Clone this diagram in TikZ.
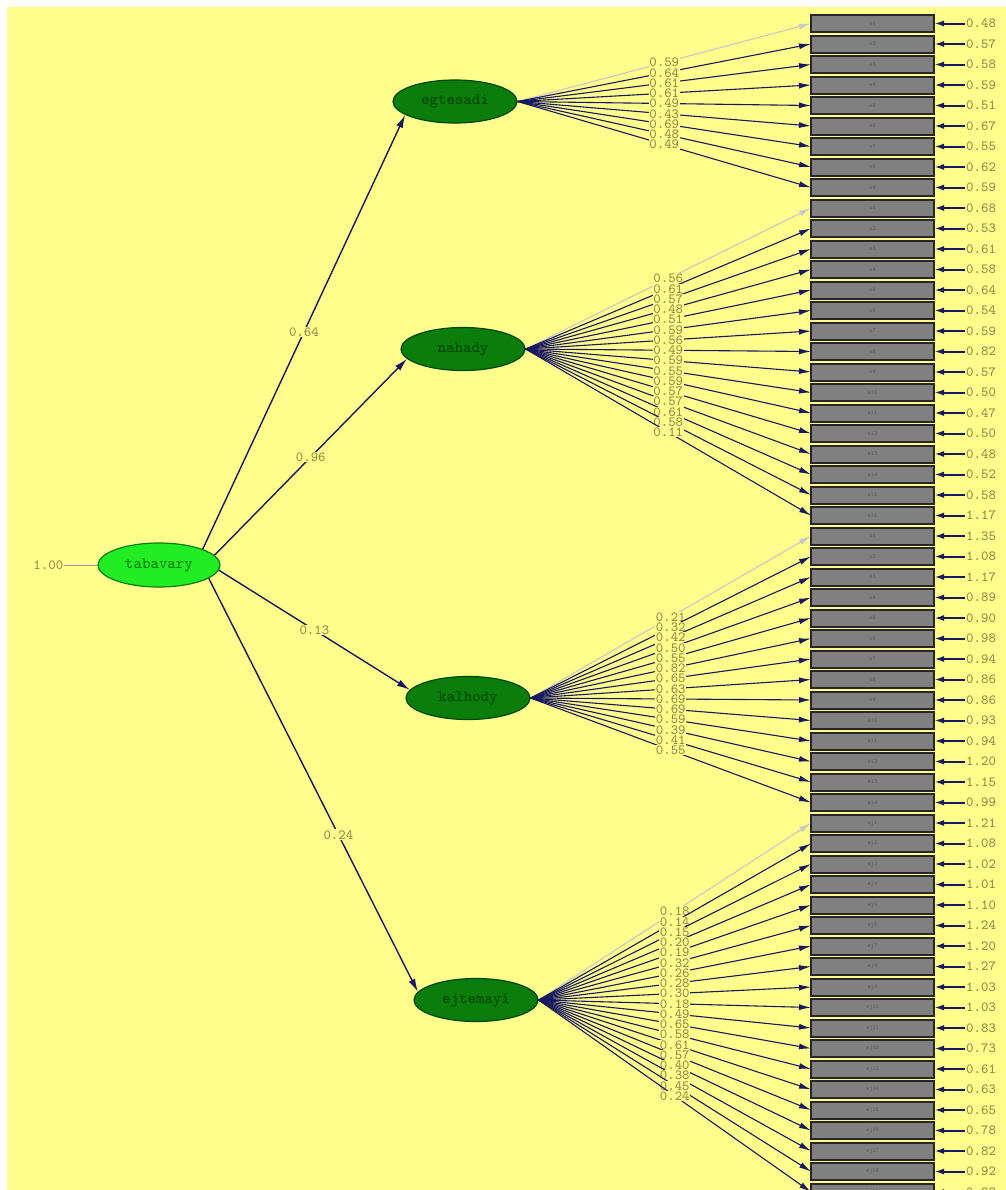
\documentclass[tikz,border=0pt]{standalone}
\usepackage{fontspec}
\usepackage{tikz}
\usetikzlibrary{positioning, shapes.geometric, arrows.meta}
\definecolor{bgyellow}{RGB}{255,253,140}
\definecolor{boxgray}{RGB}{128,128,128}
\definecolor{rootgreen}{RGB}{34,236,34}
\definecolor{latgreen}{RGB}{10,125,10}
\definecolor{darkgreen}{RGB}{0,70,0}
\definecolor{navy}{RGB}{25,25,95}
\definecolor{fixgray}{RGB}{200,200,200}
\definecolor{numcol}{RGB}{145,138,72}
\newcommand{\numfont}{\fontsize{7}{7}\selectfont\ttfamily\addfontfeatures{LetterSpace=18}}
\newcommand{\latfont}{\fontsize{8}{8}\selectfont\ttfamily\addfontfeatures{LetterSpace=20}}
\newcommand{\boxfont}{\fontsize{3}{3}\selectfont\ttfamily\addfontfeatures{LetterSpace=20}}

\begin{document}
\begin{tikzpicture}[x=0.5pt, y=-0.5pt]
      \tikzset{ root/.style={ellipse, draw=latgreen, line width=0.6pt, fill=rootgreen, text=latgreen, minimum width=61pt, minimum height=22pt, inner sep=0pt, font=\latfont} }
      \tikzset{ lat/.style ={ellipse, draw=darkgreen, line width=0.6pt, fill=latgreen, text=darkgreen, minimum width=62pt, minimum height=21.5pt, inner sep=0pt, font=\latfont} }
      \tikzset{ obs/.style ={rectangle, draw=black!85, line width=1pt, fill=boxgray, text=black!65, minimum width=61.5pt, minimum height=8.5pt, inner sep=0pt, outer sep=0pt, font=\boxfont} }
      \tikzset{ lbl/.style ={fill=bgyellow, text=numcol, inner sep=0.4pt, font=\numfont} }
      \tikzset{ err/.style ={text=numcol, inner sep=0.4pt, font=\numfont} }
      \tikzset{ ld/.style  ={draw=navy, line width=0.55pt, >={Latex[length=6pt, width=3pt]}} }
      \tikzset{ fx/.style  ={draw=fixgray, line width=0.55pt, >={Latex[length=6pt, width=3pt]}} }
      \tikzset{ st/.style  ={draw=navy, line width=0.7pt, >={Latex[length=6.5pt, width=3.5pt]}} }
      \tikzset{ ea/.style  ={draw=navy, line width=1pt, >={Latex[length=5pt, width=3pt]}} }

      % page
      \fill[white] (0,0) rectangle (1006,1190);
      \fill[bgyellow] (7,7) rectangle (1006,1190);
      \useasboundingbox (0,0) rectangle (1006,1190);

      % latent variables
      \node[root] (tabavary) at (159,565)   {tabavary};
      \node[lat]  (egtesadi) at (455,101.5) {egtesadi};
      \node[lat]  (nahady)   at (463,349)   {nahady};
      \node[lat]  (kalhody)  at (468,698)   {kalhody};
      \node[lat]  (ejtemayi) at (476,1000)  {ejtemayi};

      \node[lbl, left=16.5pt of tabavary] (fixvar) {1.00};
      \draw[draw=black!40, line width=0.5pt] (fixvar) -- (tabavary);

      \draw[->, st] (tabavary.20)  -- (egtesadi.195) node[lbl, pos=0.5]  {0.64};
      \draw[->, st] (tabavary.10)  -- (nahady.190)   node[lbl, pos=0.5]  {0.96};
      \draw[->, st] (tabavary.355) -- (kalhody.172)  node[lbl, pos=0.5]  {0.13};
      \draw[->, st] (tabavary.345) -- (ejtemayi.172) node[lbl, pos=0.62] {0.24};

      % observed variables
      \node[obs] (e1) at (872.5,23.5) {e1};
      \node[obs, below=1.75pt of e1]   (e2)   {e2};
      \node[obs, below=1.75pt of e2]   (e3)   {e3};
      \node[obs, below=1.75pt of e3]   (e4)   {e4};
      \node[obs, below=1.75pt of e4]   (e5)   {e5};
      \node[obs, below=1.75pt of e5]   (e6)   {e6};
      \node[obs, below=1.75pt of e6]   (e7)   {e7};
      \node[obs, below=1.75pt of e7]   (e8)   {e8};
      \node[obs, below=1.75pt of e8]   (e9)   {e9};
      \node[obs, below=1.75pt of e9]   (n1)   {n1};
      \node[obs, below=1.75pt of n1]   (n2)   {n2};
      \node[obs, below=1.75pt of n2]   (n3)   {n3};
      \node[obs, below=1.75pt of n3]   (n4)   {n4};
      \node[obs, below=1.75pt of n4]   (n5)   {n5};
      \node[obs, below=1.75pt of n5]   (n6)   {n6};
      \node[obs, below=1.75pt of n6]   (n7)   {n7};
      \node[obs, below=1.75pt of n7]   (n8)   {n8};
      \node[obs, below=1.75pt of n8]   (n9)   {n9};
      \node[obs, below=1.75pt of n9]   (n10)  {n10};
      \node[obs, below=1.75pt of n10]  (n11)  {n11};
      \node[obs, below=1.75pt of n11]  (n12)  {n12};
      \node[obs, below=1.75pt of n12]  (n13)  {n13};
      \node[obs, below=1.75pt of n13]  (n14)  {n14};
      \node[obs, below=1.75pt of n14]  (n15)  {n15};
      \node[obs, below=1.75pt of n15]  (n16)  {n16};
      \node[obs, below=1.75pt of n16]  (k1)   {k1};
      \node[obs, below=1.75pt of k1]   (k2)   {k2};
      \node[obs, below=1.75pt of k2]   (k3)   {k3};
      \node[obs, below=1.75pt of k3]   (k4)   {k4};
      \node[obs, below=1.75pt of k4]   (k5)   {k5};
      \node[obs, below=1.75pt of k5]   (k6)   {k6};
      \node[obs, below=1.75pt of k6]   (k7)   {k7};
      \node[obs, below=1.75pt of k7]   (k8)   {k8};
      \node[obs, below=1.75pt of k8]   (k9)   {k9};
      \node[obs, below=1.75pt of k9]   (k10)  {k10};
      \node[obs, below=1.75pt of k10]  (k11)  {k11};
      \node[obs, below=1.75pt of k11]  (k12)  {k12};
      \node[obs, below=1.75pt of k12]  (k13)  {k13};
      \node[obs, below=1.75pt of k13]  (k14)  {k14};
      \node[obs, below=1.75pt of k14]  (ej1)  {ej1};
      \node[obs, below=1.75pt of ej1]  (ej2)  {ej2};
      \node[obs, below=1.75pt of ej2]  (ej3)  {ej3};
      \node[obs, below=1.75pt of ej3]  (ej4)  {ej4};
      \node[obs, below=1.75pt of ej4]  (ej5)  {ej5};
      \node[obs, below=1.75pt of ej5]  (ej6)  {ej6};
      \node[obs, below=1.75pt of ej6]  (ej7)  {ej7};
      \node[obs, below=1.75pt of ej7]  (ej8)  {ej8};
      \node[obs, below=1.75pt of ej8]  (ej9)  {ej9};
      \node[obs, below=1.75pt of ej9]  (ej10) {ej10};
      \node[obs, below=1.75pt of ej10] (ej11) {ej11};
      \node[obs, below=1.75pt of ej11] (ej12) {ej12};
      \node[obs, below=1.75pt of ej12] (ej13) {ej13};
      \node[obs, below=1.75pt of ej13] (ej14) {ej14};
      \node[obs, below=1.75pt of ej14] (ej15) {ej15};
      \node[obs, below=1.75pt of ej15] (ej16) {ej16};
      \node[obs, below=1.75pt of ej16] (ej17) {ej17};
      \node[obs, below=1.75pt of ej17] (ej18) {ej18};
      \node[obs, below=1.75pt of ej18] (ej19) {ej19};

      % error variances
      \node[err, right=15.5pt of e1]   (e1_v)   {0.48};  \draw[->, ea] (e1_v)   -- (e1);
      \node[err, right=15.5pt of e2]   (e2_v)   {0.57};  \draw[->, ea] (e2_v)   -- (e2);
      \node[err, right=15.5pt of e3]   (e3_v)   {0.58};  \draw[->, ea] (e3_v)   -- (e3);
      \node[err, right=15.5pt of e4]   (e4_v)   {0.59};  \draw[->, ea] (e4_v)   -- (e4);
      \node[err, right=15.5pt of e5]   (e5_v)   {0.51};  \draw[->, ea] (e5_v)   -- (e5);
      \node[err, right=15.5pt of e6]   (e6_v)   {0.67};  \draw[->, ea] (e6_v)   -- (e6);
      \node[err, right=15.5pt of e7]   (e7_v)   {0.55};  \draw[->, ea] (e7_v)   -- (e7);
      \node[err, right=15.5pt of e8]   (e8_v)   {0.62};  \draw[->, ea] (e8_v)   -- (e8);
      \node[err, right=15.5pt of e9]   (e9_v)   {0.59};  \draw[->, ea] (e9_v)   -- (e9);
      \node[err, right=15.5pt of n1]   (n1_v)   {0.68};  \draw[->, ea] (n1_v)   -- (n1);
      \node[err, right=15.5pt of n2]   (n2_v)   {0.53};  \draw[->, ea] (n2_v)   -- (n2);
      \node[err, right=15.5pt of n3]   (n3_v)   {0.61};  \draw[->, ea] (n3_v)   -- (n3);
      \node[err, right=15.5pt of n4]   (n4_v)   {0.58};  \draw[->, ea] (n4_v)   -- (n4);
      \node[err, right=15.5pt of n5]   (n5_v)   {0.64};  \draw[->, ea] (n5_v)   -- (n5);
      \node[err, right=15.5pt of n6]   (n6_v)   {0.54};  \draw[->, ea] (n6_v)   -- (n6);
      \node[err, right=15.5pt of n7]   (n7_v)   {0.59};  \draw[->, ea] (n7_v)   -- (n7);
      \node[err, right=15.5pt of n8]   (n8_v)   {0.82};  \draw[->, ea] (n8_v)   -- (n8);
      \node[err, right=15.5pt of n9]   (n9_v)   {0.57};  \draw[->, ea] (n9_v)   -- (n9);
      \node[err, right=15.5pt of n10]  (n10_v)  {0.50};  \draw[->, ea] (n10_v)  -- (n10);
      \node[err, right=15.5pt of n11]  (n11_v)  {0.47};  \draw[->, ea] (n11_v)  -- (n11);
      \node[err, right=15.5pt of n12]  (n12_v)  {0.50};  \draw[->, ea] (n12_v)  -- (n12);
      \node[err, right=15.5pt of n13]  (n13_v)  {0.48};  \draw[->, ea] (n13_v)  -- (n13);
      \node[err, right=15.5pt of n14]  (n14_v)  {0.52};  \draw[->, ea] (n14_v)  -- (n14);
      \node[err, right=15.5pt of n15]  (n15_v)  {0.58};  \draw[->, ea] (n15_v)  -- (n15);
      \node[err, right=15.5pt of n16]  (n16_v)  {1.17};  \draw[->, ea] (n16_v)  -- (n16);
      \node[err, right=15.5pt of k1]   (k1_v)   {1.35};  \draw[->, ea] (k1_v)   -- (k1);
      \node[err, right=15.5pt of k2]   (k2_v)   {1.08};  \draw[->, ea] (k2_v)   -- (k2);
      \node[err, right=15.5pt of k3]   (k3_v)   {1.17};  \draw[->, ea] (k3_v)   -- (k3);
      \node[err, right=15.5pt of k4]   (k4_v)   {0.89};  \draw[->, ea] (k4_v)   -- (k4);
      \node[err, right=15.5pt of k5]   (k5_v)   {0.90};  \draw[->, ea] (k5_v)   -- (k5);
      \node[err, right=15.5pt of k6]   (k6_v)   {0.98};  \draw[->, ea] (k6_v)   -- (k6);
      \node[err, right=15.5pt of k7]   (k7_v)   {0.94};  \draw[->, ea] (k7_v)   -- (k7);
      \node[err, right=15.5pt of k8]   (k8_v)   {0.86};  \draw[->, ea] (k8_v)   -- (k8);
      \node[err, right=15.5pt of k9]   (k9_v)   {0.86};  \draw[->, ea] (k9_v)   -- (k9);
      \node[err, right=15.5pt of k10]  (k10_v)  {0.93};  \draw[->, ea] (k10_v)  -- (k10);
      \node[err, right=15.5pt of k11]  (k11_v)  {0.94};  \draw[->, ea] (k11_v)  -- (k11);
      \node[err, right=15.5pt of k12]  (k12_v)  {1.20};  \draw[->, ea] (k12_v)  -- (k12);
      \node[err, right=15.5pt of k13]  (k13_v)  {1.15};  \draw[->, ea] (k13_v)  -- (k13);
      \node[err, right=15.5pt of k14]  (k14_v)  {0.99};  \draw[->, ea] (k14_v)  -- (k14);
      \node[err, right=15.5pt of ej1]  (ej1_v)  {1.21};  \draw[->, ea] (ej1_v)  -- (ej1);
      \node[err, right=15.5pt of ej2]  (ej2_v)  {1.08};  \draw[->, ea] (ej2_v)  -- (ej2);
      \node[err, right=15.5pt of ej3]  (ej3_v)  {1.02};  \draw[->, ea] (ej3_v)  -- (ej3);
      \node[err, right=15.5pt of ej4]  (ej4_v)  {1.01};  \draw[->, ea] (ej4_v)  -- (ej4);
      \node[err, right=15.5pt of ej5]  (ej5_v)  {1.10};  \draw[->, ea] (ej5_v)  -- (ej5);
      \node[err, right=15.5pt of ej6]  (ej6_v)  {1.24};  \draw[->, ea] (ej6_v)  -- (ej6);
      \node[err, right=15.5pt of ej7]  (ej7_v)  {1.20};  \draw[->, ea] (ej7_v)  -- (ej7);
      \node[err, right=15.5pt of ej8]  (ej8_v)  {1.27};  \draw[->, ea] (ej8_v)  -- (ej8);
      \node[err, right=15.5pt of ej9]  (ej9_v)  {1.03};  \draw[->, ea] (ej9_v)  -- (ej9);
      \node[err, right=15.5pt of ej10] (ej10_v) {1.03};  \draw[->, ea] (ej10_v) -- (ej10);
      \node[err, right=15.5pt of ej11] (ej11_v) {0.83};  \draw[->, ea] (ej11_v) -- (ej11);
      \node[err, right=15.5pt of ej12] (ej12_v) {0.73};  \draw[->, ea] (ej12_v) -- (ej12);
      \node[err, right=15.5pt of ej13] (ej13_v) {0.61};  \draw[->, ea] (ej13_v) -- (ej13);
      \node[err, right=15.5pt of ej14] (ej14_v) {0.63};  \draw[->, ea] (ej14_v) -- (ej14);
      \node[err, right=15.5pt of ej15] (ej15_v) {0.65};  \draw[->, ea] (ej15_v) -- (ej15);
      \node[err, right=15.5pt of ej16] (ej16_v) {0.78};  \draw[->, ea] (ej16_v) -- (ej16);
      \node[err, right=15.5pt of ej17] (ej17_v) {0.82};  \draw[->, ea] (ej17_v) -- (ej17);
      \node[err, right=15.5pt of ej18] (ej18_v) {0.92};  \draw[->, ea] (ej18_v) -- (ej18);
      \node[err, right=15.5pt of ej19] (ej19_v) {0.88};  \draw[->, ea] (ej19_v) -- (ej19);

      % loadings
      \draw[->, fx] (egtesadi.east) -- (e1.west)   node[lbl, pos=0.5] {0.59};
      \draw[->, ld] (egtesadi.east) -- (e2.west)   node[lbl, pos=0.5] {0.64};
      \draw[->, ld] (egtesadi.east) -- (e3.west)   node[lbl, pos=0.5] {0.61};
      \draw[->, ld] (egtesadi.east) -- (e4.west)   node[lbl, pos=0.5] {0.61};
      \draw[->, ld] (egtesadi.east) -- (e5.west)   node[lbl, pos=0.5] {0.49};
      \draw[->, ld] (egtesadi.east) -- (e6.west)   node[lbl, pos=0.5] {0.43};
      \draw[->, ld] (egtesadi.east) -- (e7.west)   node[lbl, pos=0.5] {0.69};
      \draw[->, ld] (egtesadi.east) -- (e8.west)   node[lbl, pos=0.5] {0.48};
      \draw[->, ld] (egtesadi.east) -- (e9.west)   node[lbl, pos=0.5] {0.49};

      \draw[->, fx] (nahady.east)   -- (n1.west)   node[lbl, pos=0.5] {0.56};
      \draw[->, ld] (nahady.east)   -- (n2.west)   node[lbl, pos=0.5] {0.61};
      \draw[->, ld] (nahady.east)   -- (n3.west)   node[lbl, pos=0.5] {0.57};
      \draw[->, ld] (nahady.east)   -- (n4.west)   node[lbl, pos=0.5] {0.48};
      \draw[->, ld] (nahady.east)   -- (n5.west)   node[lbl, pos=0.5] {0.51};
      \draw[->, ld] (nahady.east)   -- (n6.west)   node[lbl, pos=0.5] {0.59};
      \draw[->, ld] (nahady.east)   -- (n7.west)   node[lbl, pos=0.5] {0.56};
      \draw[->, ld] (nahady.east)   -- (n8.west)   node[lbl, pos=0.5] {0.49};
      \draw[->, ld] (nahady.east)   -- (n9.west)   node[lbl, pos=0.5] {0.59};
      \draw[->, ld] (nahady.east)   -- (n10.west)  node[lbl, pos=0.5] {0.55};
      \draw[->, ld] (nahady.east)   -- (n11.west)  node[lbl, pos=0.5] {0.59};
      \draw[->, ld] (nahady.east)   -- (n12.west)  node[lbl, pos=0.5] {0.57};
      \draw[->, ld] (nahady.east)   -- (n13.west)  node[lbl, pos=0.5] {0.57};
      \draw[->, ld] (nahady.east)   -- (n14.west)  node[lbl, pos=0.5] {0.61};
      \draw[->, ld] (nahady.east)   -- (n15.west)  node[lbl, pos=0.5] {0.58};
      \draw[->, ld] (nahady.east)   -- (n16.west)  node[lbl, pos=0.5] {0.11};

      \draw[->, fx] (kalhody.east)  -- (k1.west)   node[lbl, pos=0.5] {0.21};
      \draw[->, ld] (kalhody.east)  -- (k2.west)   node[lbl, pos=0.5] {0.32};
      \draw[->, ld] (kalhody.east)  -- (k3.west)   node[lbl, pos=0.5] {0.42};
      \draw[->, ld] (kalhody.east)  -- (k4.west)   node[lbl, pos=0.5] {0.50};
      \draw[->, ld] (kalhody.east)  -- (k5.west)   node[lbl, pos=0.5] {0.55};
      \draw[->, ld] (kalhody.east)  -- (k6.west)   node[lbl, pos=0.5] {0.82};
      \draw[->, ld] (kalhody.east)  -- (k7.west)   node[lbl, pos=0.5] {0.65};
      \draw[->, ld] (kalhody.east)  -- (k8.west)   node[lbl, pos=0.5] {0.63};
      \draw[->, ld] (kalhody.east)  -- (k9.west)   node[lbl, pos=0.5] {0.69};
      \draw[->, ld] (kalhody.east)  -- (k10.west)  node[lbl, pos=0.5] {0.69};
      \draw[->, ld] (kalhody.east)  -- (k11.west)  node[lbl, pos=0.5] {0.59};
      \draw[->, ld] (kalhody.east)  -- (k12.west)  node[lbl, pos=0.5] {0.39};
      \draw[->, ld] (kalhody.east)  -- (k13.west)  node[lbl, pos=0.5] {0.41};
      \draw[->, ld] (kalhody.east)  -- (k14.west)  node[lbl, pos=0.5] {0.55};

      \draw[->, fx] (ejtemayi.east) -- (ej1.west)  node[lbl, pos=0.5] {0.18};
      \draw[->, ld] (ejtemayi.east) -- (ej2.west)  node[lbl, pos=0.5] {0.14};
      \draw[->, ld] (ejtemayi.east) -- (ej3.west)  node[lbl, pos=0.5] {0.15};
      \draw[->, ld] (ejtemayi.east) -- (ej4.west)  node[lbl, pos=0.5] {0.20};
      \draw[->, ld] (ejtemayi.east) -- (ej5.west)  node[lbl, pos=0.5] {0.19};
      \draw[->, ld] (ejtemayi.east) -- (ej6.west)  node[lbl, pos=0.5] {0.32};
      \draw[->, ld] (ejtemayi.east) -- (ej7.west)  node[lbl, pos=0.5] {0.26};
      \draw[->, ld] (ejtemayi.east) -- (ej8.west)  node[lbl, pos=0.5] {0.28};
      \draw[->, ld] (ejtemayi.east) -- (ej9.west)  node[lbl, pos=0.5] {0.30};
      \draw[->, ld] (ejtemayi.east) -- (ej10.west) node[lbl, pos=0.5] {0.18};
      \draw[->, ld] (ejtemayi.east) -- (ej11.west) node[lbl, pos=0.5] {0.49};
      \draw[->, ld] (ejtemayi.east) -- (ej12.west) node[lbl, pos=0.5] {0.65};
      \draw[->, ld] (ejtemayi.east) -- (ej13.west) node[lbl, pos=0.5] {0.58};
      \draw[->, ld] (ejtemayi.east) -- (ej14.west) node[lbl, pos=0.5] {0.61};
      \draw[->, ld] (ejtemayi.east) -- (ej15.west) node[lbl, pos=0.5] {0.57};
      \draw[->, ld] (ejtemayi.east) -- (ej16.west) node[lbl, pos=0.5] {0.40};
      \draw[->, ld] (ejtemayi.east) -- (ej17.west) node[lbl, pos=0.5] {0.38};
      \draw[->, ld] (ejtemayi.east) -- (ej18.west) node[lbl, pos=0.5] {0.45};
      \draw[->, ld] (ejtemayi.east) -- (ej19.west) node[lbl, pos=0.5] {0.24};
\end{tikzpicture}
\end{document}
